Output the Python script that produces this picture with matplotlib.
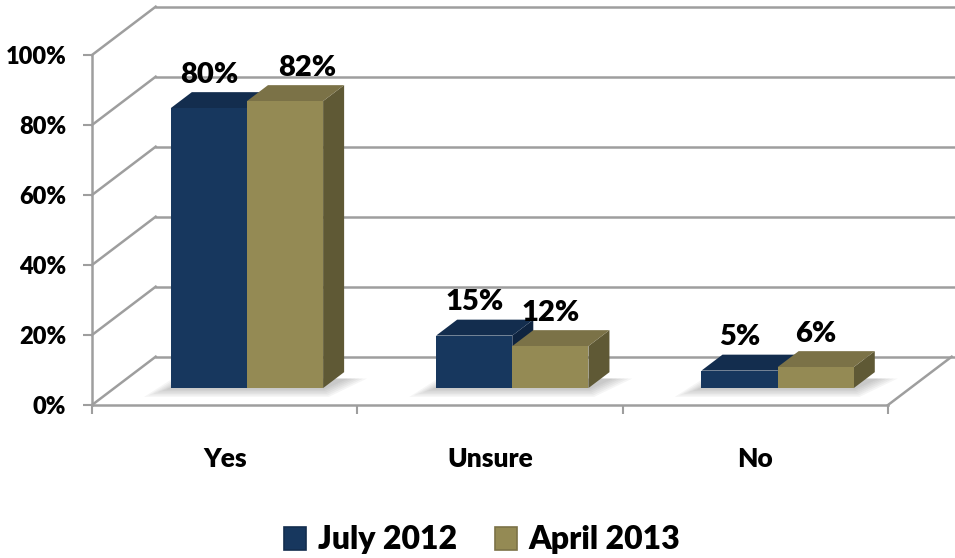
import matplotlib.pyplot as plt
from matplotlib.patches import Polygon, Patch
import numpy as np

categories = ['Yes', 'Unsure', 'No']
series_names = ['July 2012', 'April 2013']
july_2012 = [0.80, 0.15, 0.05]
april_2013 = [0.82, 0.12, 0.06]
y_ticks = [0.0, 0.2, 0.4, 0.6, 0.8, 1.0]
y_tick_labels = ['0%', '20%', '40%', '60%', '80%', '100%']

front_colors = ['#17375E', '#948A54']
top_colors = ['#132D4E', '#7B7247']
side_colors = ['#0F2440', '#5F5935']
grid_color = '#9E9E9E'

plt.rcParams['font.family'] = ['Lato', 'DejaVu Sans']
plt.rcParams['font.weight'] = 'heavy'

fig = plt.figure(figsize=(9.55, 5.58), dpi=100)
ax = fig.add_axes([92 / 955, 153 / 558, 796 / 955, 350 / 558])
ax.set_xlim(0, 3)
ax.set_ylim(0, 1)

# oblique depth of the plot box, in data units
DX, DY = 0.240, 0.138
# bars sit in the middle third of the depth
d_front, d_bar = 0.35, 0.33
shift, lift = d_front * DX, d_front * DY
bdx, bdy = d_bar * DX, d_bar * DY

# back wall gridlines and side wall diagonals
for y in y_ticks:
    ax.plot([DX, 3 + DX + 0.02], [y + DY, y + DY], color=grid_color, lw=1.8,
            clip_on=False, zorder=1)
    ax.plot([0, DX], [y, y + DY], color=grid_color, lw=1.8, clip_on=False, zorder=1)
# right edge of the floor
ax.plot([3, 3 + DX], [0, DY], color=grid_color, lw=1.8, clip_on=False, zorder=1)

width = 0.287
x = np.arange(len(categories)) + 0.5 + shift
series = [july_2012, april_2013]

# soft shadow on the floor under each group
for xc in x:
    x0, x1 = xc - width, xc + width
    for k in range(1, 7):
        m = 0.012 * k
        shadow = Polygon([(x0 - m * 1.4, lift - m * 0.35),
                          (x1 + m * 0.3, lift - m * 0.35),
                          (x1 + bdx + m * 1.2, lift + bdy * 0.6),
                          (x0 + bdx - m, lift + bdy * 0.6)],
                         closed=True, facecolor='#404040', edgecolor='none',
                         alpha=0.05, zorder=2, clip_on=False)
        ax.add_patch(shadow)

for i, vals in enumerate(series):
    xs = x + (i - 0.5) * width
    z = 3 + 3 * i
    bars = ax.bar(xs, vals, width=width, bottom=lift, color=front_colors[i],
                  zorder=z + 2, label=series_names[i])
    for j, (rect, v) in enumerate(zip(bars, vals)):
        bx0 = rect.get_x()
        bx1 = bx0 + rect.get_width()
        top = rect.get_y() + rect.get_height()
        side = Polygon([(bx1, lift), (bx1, top), (bx1 + bdx, top + bdy),
                        (bx1 + bdx, lift + bdy)], closed=True,
                       facecolor=side_colors[i], edgecolor='none', zorder=z)
        lid = Polygon([(bx0, top), (bx1, top), (bx1 + bdx, top + bdy),
                       (bx0 + bdx, top + bdy)], closed=True,
                      facecolor=top_colors[i], edgecolor='none', zorder=z + 1)
        ax.add_patch(side)
        ax.add_patch(lid)
        # the tall second bar's label sits a little to the right
        dx = 16 if (i == 1 and j == 0) else 0
        ax.annotate(f'{v:.0%}', (rect.get_x() + rect.get_width() / 2, top + bdy),
                    xytext=(dx, 3), textcoords='offset points', ha='center',
                    va='bottom', fontsize=21, zorder=10)

# axes styling
for s in ['top', 'right']:
    ax.spines[s].set_visible(False)
for s in ['left', 'bottom']:
    ax.spines[s].set_color(grid_color)
    ax.spines[s].set_linewidth(1.8)
    ax.spines[s].set_zorder(1)

ax.set_yticks(y_ticks, y_tick_labels)
ax.tick_params(axis='y', length=6.5, width=1.5, color=grid_color, pad=12,
               labelsize=17)
ax.set_xticks([0.5, 1.5, 2.5], categories)
ax.set_xticks([0, 1, 2, 3], minor=True)
ax.tick_params(axis='x', which='major', length=0, pad=30, labelsize=19)
ax.tick_params(axis='x', which='minor', length=6.5, width=1.5, color=grid_color)
ax.set_facecolor('none')

handles = [Patch(facecolor=front_colors[i], edgecolor=top_colors[i], linewidth=1.2)
           for i in range(2)]
fig.legend(handles, series_names, loc='center', bbox_to_anchor=(0.505, 18 / 558),
           ncol=2, frameon=False, fontsize=23, handlelength=0.7, handleheight=0.7,
           handletextpad=0.35, columnspacing=1.2)

fig.savefig('out.png', dpi=100)
